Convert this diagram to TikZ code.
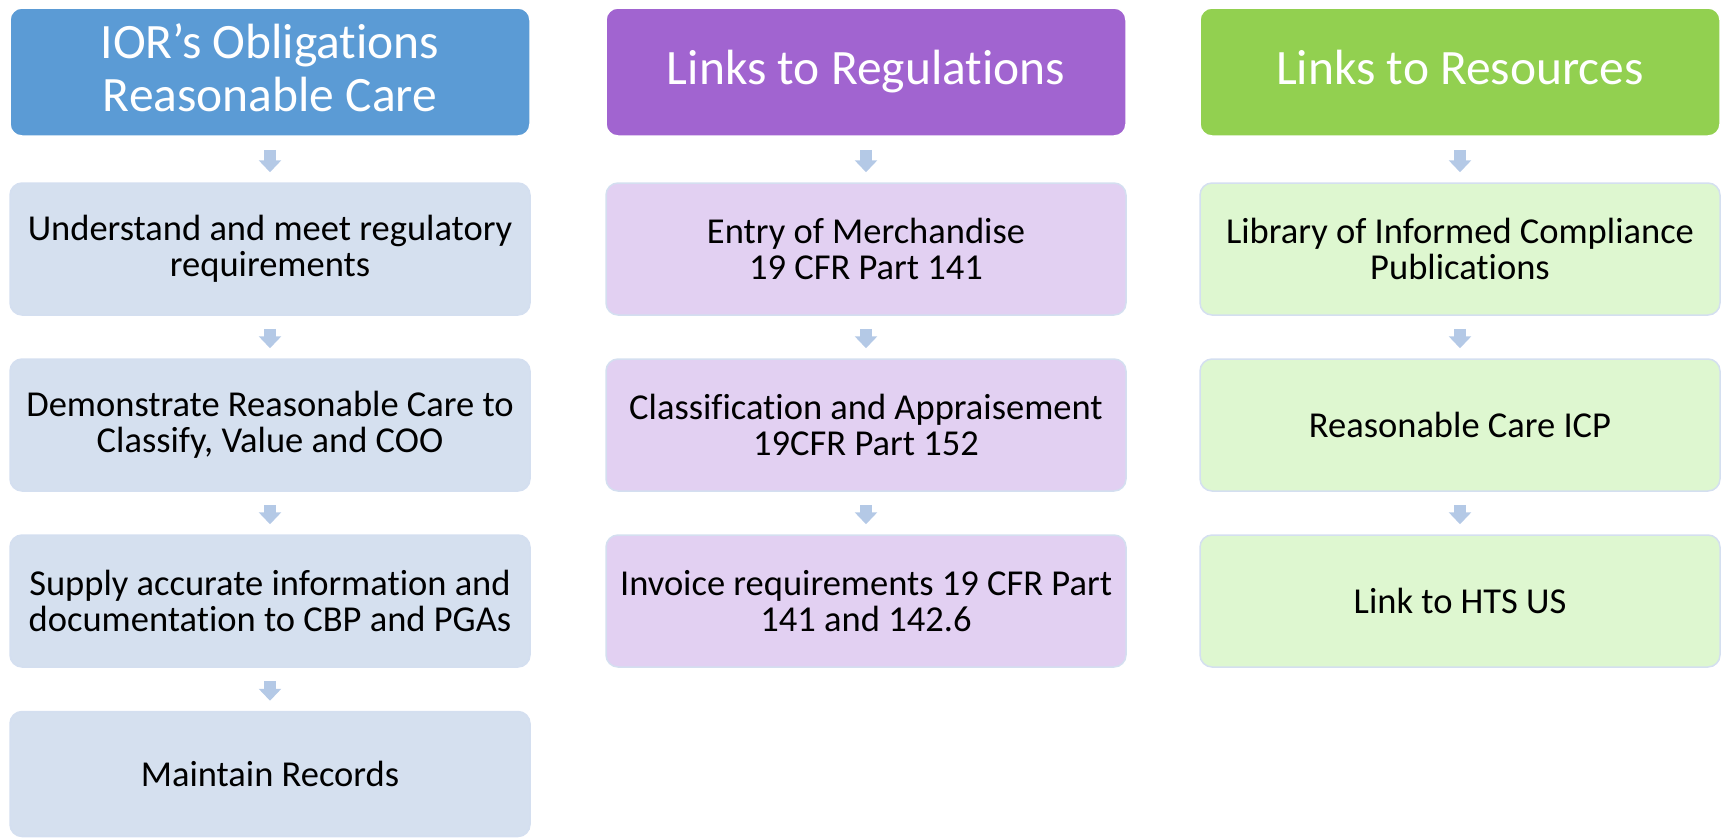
\documentclass[tikz,border=0pt]{standalone}
\usepackage{fontspec}
\setmainfont{Carlito}[Ligatures={TeX,NoCommon}]
\usetikzlibrary{arrows.meta}
\definecolor{head_blue}{RGB}{91,155,213}
\definecolor{head_purple}{RGB}{161,100,208}
\definecolor{head_green}{RGB}{146,208,80}
\definecolor{box_blue}{RGB}{213,224,239}
\definecolor{box_purple}{RGB}{226,208,242}
\definecolor{box_green}{RGB}{222,247,208}
\definecolor{edge_light}{RGB}{212,223,240}
\definecolor{arrow_blue}{RGB}{180,201,230}

\begin{document}
\begin{tikzpicture}[x=1pt,y=-1pt]
    \tikzstyle{box}=[rounded corners=12pt, minimum width=520pt, minimum height=132pt, align=center, inner sep=0pt, draw=edge_light, line width=1.5pt, text=black, font=\fontsize{36.5}{36}\selectfont]
    \tikzstyle{head}=[style=box, minimum height=128pt, draw=white, text=white, font=\fontsize{49.5}{53}\selectfont, execute at end node=\vphantom{g}]
    \tikzstyle{hb}=[style=head, fill=head_blue]
    \tikzstyle{hp}=[style=head, fill=head_purple]
    \tikzstyle{hg}=[style=head, fill=head_green]
    \tikzstyle{bb}=[style=box, fill=box_blue]
    \tikzstyle{bp}=[style=box, fill=box_purple]
    \tikzstyle{bg}=[style=box, fill=box_green]
    \tikzstyle{flow}=[-{Triangle[width=22pt,length=12pt]}, line width=12pt, draw=arrow_blue, shorten <=13pt, shorten >=10pt]

    \useasboundingbox (0,0) rectangle (1721,838);

    % obligations
    \node[hb] (h1) at (270,72)  {IOR’s Obligations\\Reasonable Care};
    \node[bb] (a1) at (270,249) {Understand and meet regulatory\\requirements};
    \node[bb] (a2) at (270,425) {Demonstrate Reasonable Care to\\Classify, Value and COO};
    \node[bb] (a3) at (270,601) {Supply accurate information and\\documentation to CBP and PGAs};
    \node[bb, minimum height=125pt] (a4) at (270,774) {Maintain Records};

    % regulations
    \node[hp] (h2) at (866,72)  {Links to Regulations};
    \node[bp] (b1) at (866,249) {Entry of Merchandise\\19 CFR Part 141};
    \node[bp] (b2) at (866,425) {Classification and Appraisement\\19CFR Part 152};
    \node[bp] (b3) at (866,601) {Invoice requirements 19 CFR Part\\141 and 142.6};

    % resources
    \node[hg] (h3) at (1460,72)  {Links to Resources};
    \node[bg] (c1) at (1460,249) {Library of Informed Compliance\\Publications};
    \node[bg] (c2) at (1460,425) {Reasonable Care ICP};
    \node[bg] (c3) at (1460,601) {Link to HTS US};

    \path
     (h1) edge[flow] (a1)
     (a1) edge[flow] (a2)
     (a2) edge[flow] (a3)
     (a3) edge[flow] (a4)
     (h2) edge[flow] (b1)
     (b1) edge[flow] (b2)
     (b2) edge[flow] (b3)
     (h3) edge[flow] (c1)
     (c1) edge[flow] (c2)
     (c2) edge[flow] (c3)
     ;
\end{tikzpicture}
\end{document}
